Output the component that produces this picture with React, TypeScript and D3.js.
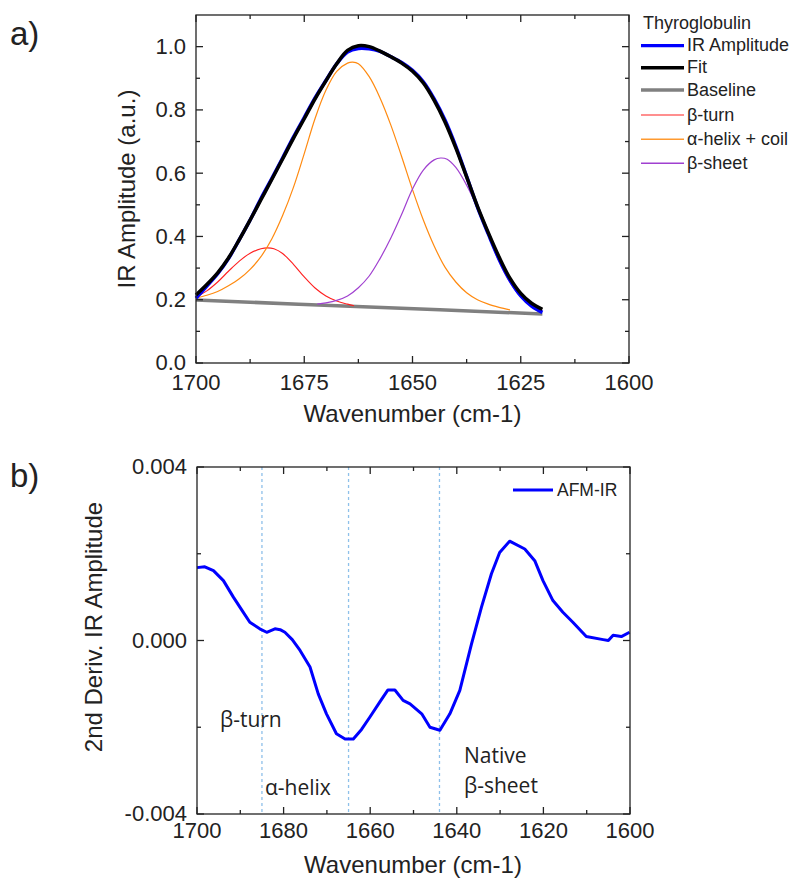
import React from "react";
import * as d3 from "d3";

// ---------- Panel a data ----------
const fitWn = [1700, 1697.5, 1695, 1692.5, 1690, 1687.5, 1685, 1682.5, 1680, 1677.5, 1675, 1672.5, 1670, 1667.5, 1665, 1662.5, 1660, 1657.5, 1655, 1652.5, 1650, 1647.5, 1645, 1642.5, 1640, 1637.5, 1635, 1632.5, 1630, 1627.5, 1625, 1622.5, 1620];
const fitVal = [0.215, 0.248, 0.285, 0.332, 0.39, 0.452, 0.516, 0.58, 0.645, 0.71, 0.772, 0.835, 0.892, 0.946, 0.988, 1.003, 1.0, 0.986, 0.968, 0.948, 0.922, 0.885, 0.83, 0.762, 0.68, 0.588, 0.495, 0.412, 0.335, 0.268, 0.22, 0.189, 0.17];
const irVal = [0.205, 0.243, 0.282, 0.33, 0.39, 0.452, 0.52, 0.583, 0.648, 0.714, 0.776, 0.838, 0.893, 0.946, 0.983, 0.994, 0.993, 0.985, 0.968, 0.95, 0.925, 0.889, 0.835, 0.768, 0.685, 0.59, 0.493, 0.408, 0.328, 0.262, 0.212, 0.18, 0.16];

const helixWn = [1700, 1697.5, 1695, 1692.5, 1690, 1687.5, 1685, 1682.5, 1680, 1677.5, 1675, 1672.5, 1670, 1667.5, 1665, 1663.8, 1662.5, 1660, 1657.5, 1655, 1652.5, 1650, 1647.5, 1645, 1642.5, 1640, 1637.5, 1635, 1632.5, 1630, 1627.5];
const helixVal = [0.205, 0.214, 0.226, 0.244, 0.266, 0.296, 0.336, 0.392, 0.466, 0.555, 0.662, 0.773, 0.862, 0.922, 0.948, 0.951, 0.946, 0.905, 0.838, 0.752, 0.652, 0.548, 0.452, 0.37, 0.303, 0.256, 0.222, 0.2, 0.186, 0.176, 0.168];

const turnWn = [1700, 1697.5, 1695, 1692.5, 1690, 1687.5, 1685, 1683.5, 1682, 1680, 1677.5, 1675, 1672.5, 1670, 1667.5, 1665, 1663.5];
const turnVal = [0.208, 0.228, 0.256, 0.29, 0.322, 0.347, 0.361, 0.364, 0.361, 0.346, 0.312, 0.272, 0.237, 0.212, 0.196, 0.186, 0.181];

const sheetWn = [1672, 1670, 1667.5, 1665, 1662.5, 1660, 1657.5, 1655, 1652.5, 1650, 1647.5, 1645, 1643.5, 1642, 1640, 1637.5, 1635, 1632.5, 1630, 1627.5, 1625, 1622.5, 1620];
const sheetVal = [0.186, 0.19, 0.198, 0.212, 0.238, 0.275, 0.33, 0.395, 0.47, 0.55, 0.61, 0.642, 0.648, 0.644, 0.618, 0.562, 0.49, 0.405, 0.32, 0.255, 0.21, 0.182, 0.166];

const baseWn = [1700, 1660, 1620];
const baseVal = [0.199, 0.177, 0.155];

const aXTicks = [1700, 1675, 1650, 1625, 1600];
const aXMinor = [1687.5, 1662.5, 1637.5, 1612.5];
const aYTicks = [0, 0.2, 0.4, 0.6, 0.8, 1.0];
const aYMinor = [0.1, 0.3, 0.5, 0.7, 0.9];

// ---------- Panel b data ----------
const derivWn = [1700, 1698.2, 1696.2, 1693.9, 1691.6, 1689.3, 1687.8, 1685.5, 1683.9, 1682, 1680.8, 1679.7, 1678, 1676.2, 1673.9, 1672, 1670.1, 1667.8, 1665.8, 1663.9, 1662, 1660.1, 1657.8, 1655.9, 1654.3, 1652.4, 1650.8, 1648.1, 1646.2, 1643.9, 1641.6, 1639.3, 1636.6, 1634.3, 1632, 1630.1, 1627.8, 1624.3, 1622, 1620.1, 1617.8, 1615.5, 1613.2, 1610.1, 1606.2, 1605, 1603.9, 1602, 1600.1];
const derivVal = [0.00168, 0.0017, 0.00161, 0.00138, 0.001, 0.00065, 0.00042, 0.00027, 0.00019, 0.00027, 0.00025, 0.00019, 0.00002, -0.00023, -0.00061, -0.00123, -0.00169, -0.00215, -0.00227, -0.00227, -0.00205, -0.00177, -0.00142, -0.00114, -0.00114, -0.00138, -0.00146, -0.00169, -0.002, -0.00207, -0.00169, -0.00115, -0.00008, 0.00077, 0.00154, 0.00203, 0.00229, 0.00211, 0.00184, 0.00138, 0.00092, 0.00065, 0.00042, 0.00009, 0.00002, 0.0, 0.00012, 0.00009, 0.00019];
const markerWn = [1685, 1665, 1644];
const bXTicks = [1700, 1680, 1660, 1640, 1620, 1600];
const bXMinor = [1690, 1670, 1650, 1630, 1610];
const bYTicks = [0.004, 0, -0.004];
const bYMinor = [0.002, -0.002];

const FONT = "'Liberation Sans', Arial, sans-serif";
const ANN = "'Open Sans', 'Noto Sans', sans-serif";

type Pt = [number, number];
const zip = (a: number[], b: number[]): Pt[] => a.map((w, i) => [w, b[i]]);

function Frame({ x, y, xt, xm, yt, ym, fmtY, xLabelDy }: any) {
  const [x0, x1] = x.range();
  const [y0, y1] = y.range(); // y0 bottom, y1 top
  const M = 7, m = 4;
  const stroke = "#222";
  return (
    <g>
      <rect x={x0} y={y1} width={x1 - x0} height={y0 - y1} fill="none" stroke={stroke} strokeWidth={1.3} />
      {xt.map((t: number) => (
        <g key={"xt" + t}>
          <line x1={x(t)} x2={x(t)} y1={y0} y2={y0 - M} stroke={stroke} strokeWidth={1.3} />
          <line x1={x(t)} x2={x(t)} y1={y1} y2={y1 + M} stroke={stroke} strokeWidth={1.3} />
          <text x={x(t)} y={y0 + xLabelDy} textAnchor="middle" fontFamily={FONT} fontSize={22} fill="#222">{t}</text>
        </g>
      ))}
      {xm.map((t: number) => (
        <g key={"xm" + t}>
          <line x1={x(t)} x2={x(t)} y1={y0} y2={y0 - m} stroke={stroke} strokeWidth={1.3} />
          <line x1={x(t)} x2={x(t)} y1={y1} y2={y1 + m} stroke={stroke} strokeWidth={1.3} />
        </g>
      ))}
      {yt.map((t: number) => (
        <g key={"yt" + t}>
          <line x1={x0} x2={x0 + M} y1={y(t)} y2={y(t)} stroke={stroke} strokeWidth={1.3} />
          <line x1={x1} x2={x1 - M} y1={y(t)} y2={y(t)} stroke={stroke} strokeWidth={1.3} />
          <text x={x0 - 10} y={y(t)} dy="0.34em" textAnchor="end" fontFamily={FONT} fontSize={22} fill="#222">{fmtY(t)}</text>
        </g>
      ))}
      {ym.map((t: number) => (
        <g key={"ym" + t}>
          <line x1={x0} x2={x0 + m} y1={y(t)} y2={y(t)} stroke={stroke} strokeWidth={1.3} />
          <line x1={x1} x2={x1 - m} y1={y(t)} y2={y(t)} stroke={stroke} strokeWidth={1.3} />
        </g>
      ))}
    </g>
  );
}

export default function App() {
  // Panel a scales
  const xa = d3.scaleLinear().domain([1700, 1600]).range([196, 629]);
  const ya = d3.scaleLinear().domain([0, 1.1]).range([363, 15]);
  const lineA = d3.line<Pt>().x((d) => xa(d[0])).y((d) => ya(d[1])).curve(d3.curveCatmullRom.alpha(0.5));

  // Panel b scales
  const xb = d3.scaleLinear().domain([1700, 1600]).range([197, 630]);
  const yb = d3.scaleLinear().domain([-0.004, 0.004]).range([814, 467]);
  const lineB = d3.line<Pt>().x((d) => xb(d[0])).y((d) => yb(d[1])).curve(d3.curveLinear);

  const legendA = [
    { label: "IR Amplitude", color: "#0000ff", w: 3.2, y: 45.7 },
    { label: "Fit", color: "#000", w: 3.5, y: 67.7 },
    { label: "Baseline", color: "#808080", w: 3.5, y: 90 },
    { label: "β-turn", color: "#ff2020", w: 1.2, y: 115 },
    { label: "α-helix + coil", color: "#ff9a30", w: 1.4, y: 139.3 },
    { label: "β-sheet", color: "#a040d0", w: 1.4, y: 163.3 },
  ];

  return (
    <svg width={793} height={881} style={{ position: "absolute", left: 0, top: 0, background: "#fff" }}>
      {/* ---------------- Panel a ---------------- */}
      <text x={10} y={45} fontFamily={FONT} fontSize={33} fill="#222">a)</text>
      <path d={lineA(zip(baseWn, baseVal))!} fill="none" stroke="#808080" strokeWidth={3.5} />
      <path d={lineA(zip(turnWn, turnVal))!} fill="none" stroke="#ff2020" strokeWidth={1.1} />
      <path d={lineA(zip(helixWn, helixVal))!} fill="none" stroke="#ff8a10" strokeWidth={1.2} />
      <path d={lineA(zip(sheetWn, sheetVal))!} fill="none" stroke="#a040d0" strokeWidth={1.2} />
      <path d={lineA(zip(fitWn, irVal))!} fill="none" stroke="#0000ff" strokeWidth={3.5} />
      <path d={lineA(zip(fitWn, fitVal))!} fill="none" stroke="#000" strokeWidth={3.5} />
      <Frame x={xa} y={ya} xt={aXTicks} xm={aXMinor} yt={aYTicks} ym={aYMinor} fmtY={(t: number) => t.toFixed(1)} xLabelDy={27} />
      <text transform="translate(135,189) rotate(-90)" textAnchor="middle" fontFamily={FONT} fontSize={24} fill="#222">IR Amplitude (a.u.)</text>
      <text x={412.5} y={422} textAnchor="middle" fontFamily={FONT} fontSize={24} fill="#222">Wavenumber (cm-1)</text>

      <text x={643} y={29} fontFamily={FONT} fontSize={18} fill="#222">Thyroglobulin</text>
      {legendA.map((l) => (
        <g key={l.label}>
          <line x1={641} x2={684} y1={l.y} y2={l.y} stroke={l.color} strokeWidth={l.w} />
          <text x={687} y={l.y + 5.6} fontFamily={FONT} fontSize={18} fill="#222">{l.label}</text>
        </g>
      ))}

      {/* ---------------- Panel b ---------------- */}
      <text x={10} y={487} fontFamily={FONT} fontSize={33} fill="#222">b)</text>
      {markerWn.map((w) => (
        <line key={w} x1={xb(w)} x2={xb(w)} y1={467} y2={814} stroke="#8ec0ea" strokeWidth={1.3} strokeDasharray="3,3" />
      ))}
      <path d={lineB(zip(derivWn, derivVal))!} fill="none" stroke="#0000ff" strokeWidth={3} strokeLinejoin="round" />
      <Frame x={xb} y={yb} xt={bXTicks} xm={bXMinor} yt={bYTicks} ym={bYMinor} fmtY={(t: number) => t.toFixed(3)} xLabelDy={24} />
      <text transform="translate(102,627) rotate(-90)" textAnchor="middle" fontFamily={FONT} fontSize={24} fill="#222">2nd Deriv. IR Amplitude</text>
      <text x={413} y={873} textAnchor="middle" fontFamily={FONT} fontSize={24} fill="#222">Wavenumber (cm-1)</text>

      <line x1={513} x2={553} y1={490} y2={490} stroke="#0000ff" strokeWidth={3} />
      <text x={557} y={496} fontFamily={FONT} fontSize={17.5} fill="#222">AFM-IR</text>

      <text x={220} y={727} fontFamily={ANN} fontSize={21} fill="#222">β-turn</text>
      <text x={265} y={795} fontFamily={ANN} fontSize={21} fill="#222">α-helix</text>
      <text x={464} y={763} fontFamily={ANN} fontSize={21} fill="#222">Native</text>
      <text x={464} y={793} fontFamily={ANN} fontSize={21} fill="#222">β-sheet</text>
    </svg>
  );
}
